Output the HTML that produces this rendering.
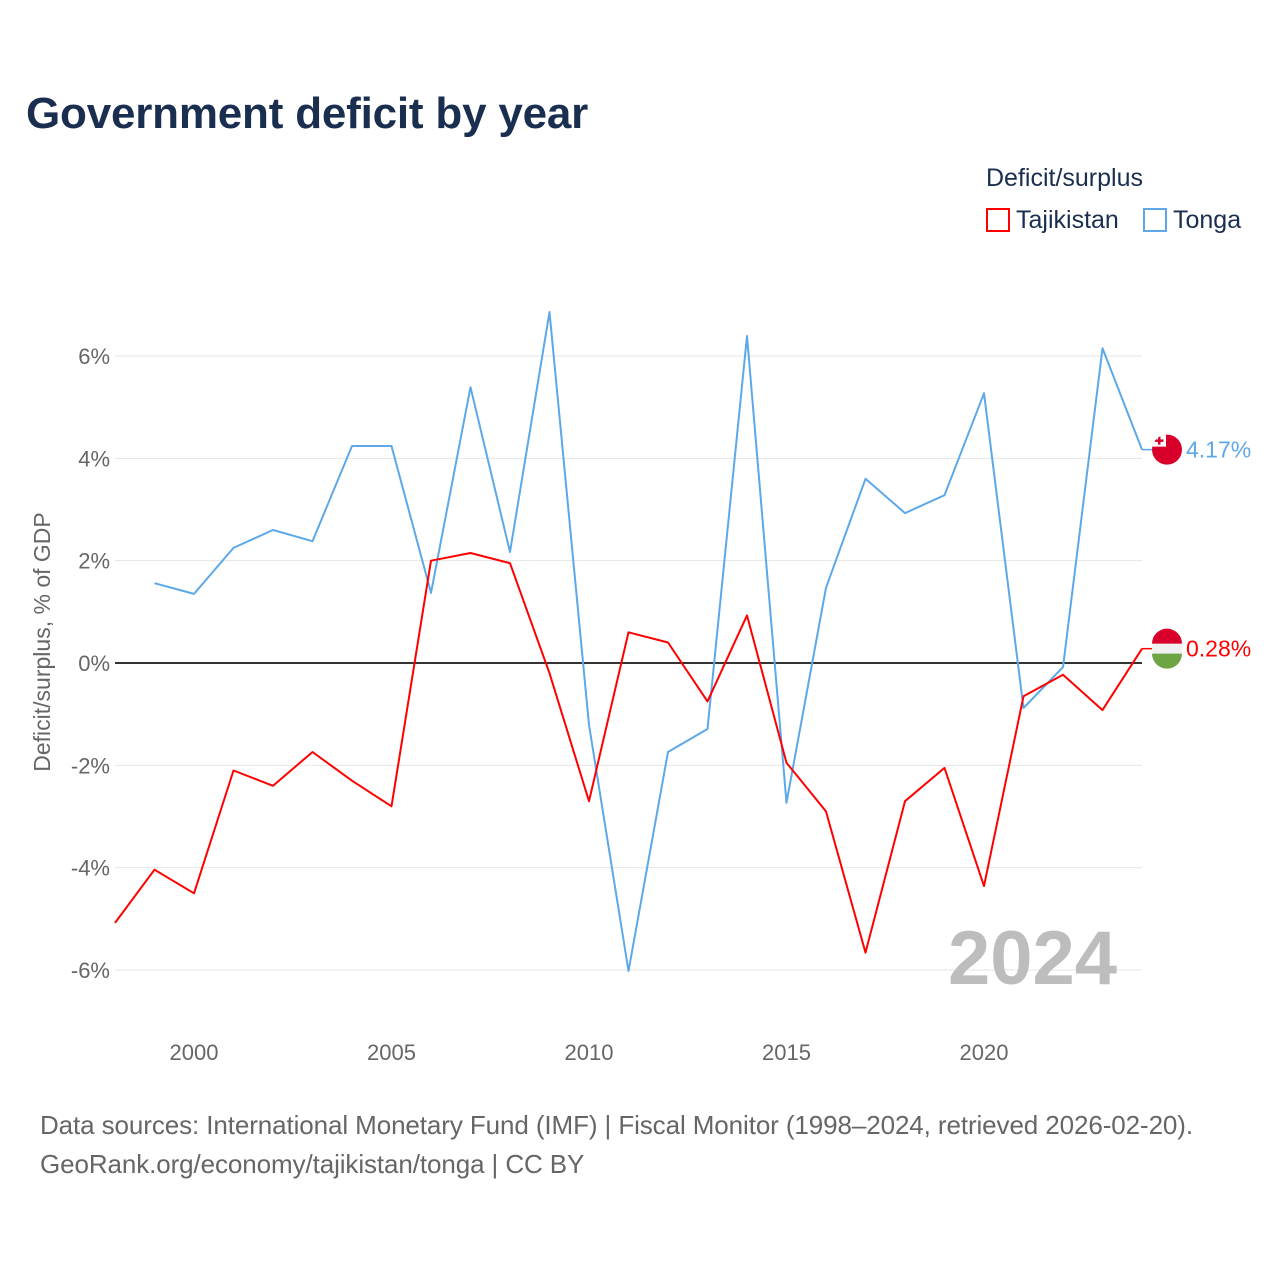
<!DOCTYPE html>
<html><head><meta charset="utf-8">
<style>
body{margin:0;background:#fff;font-family:"Liberation Sans",sans-serif;}
#wrap{position:relative;width:1280px;height:1280px;overflow:hidden;}
.t{position:absolute;white-space:nowrap;}
</style></head>
<body><div id="wrap">
<div class="t" style="left:26px;top:89px;font-size:44px;letter-spacing:-0.2px;font-weight:bold;color:#1a2e4f;">Government deficit by year</div>
<div class="t" style="left:986px;top:164px;font-size:25px;color:#1a2e4f;">Deficit/surplus</div>
<div class="t" style="left:986px;top:206px;font-size:25px;color:#1a2e4f;"><span style="display:inline-block;width:24px;height:24px;border:2px solid #f00;box-sizing:border-box;vertical-align:-4px;margin-right:6px"></span>Tajikistan</div>
<div class="t" style="left:1143px;top:206px;font-size:25px;color:#1a2e4f;"><span style="display:inline-block;width:24px;height:24px;border:2px solid #5ca8e8;box-sizing:border-box;vertical-align:-4px;margin-right:6px"></span>Tonga</div>
<svg id="chart" width="1280" height="1280" style="position:absolute;left:0;top:0"></svg>
<div class="t" style="left:948px;top:915px;font-size:76px;font-weight:bold;color:#bdbdbd;">2024</div>
<div class="t" style="left:40px;top:1106px;font-size:26px;letter-spacing:-0.1px;color:#666;line-height:39px;">Data sources: International Monetary Fund (IMF) | Fiscal Monitor (1998–2024, retrieved 2026-02-20).<br>GeoRank.org/economy/tajikistan/tonga | CC BY</div>
</div>
<script>
const years=[1998,1999,2000,2001,2002,2003,2004,2005,2006,2007,2008,2009,2010,2011,2012,2013,2014,2015,2016,2017,2018,2019,2020,2021,2022,2023,2024];
const tajikistan=[-5.08,-4.04,-4.5,-2.1,-2.4,-1.74,-2.3,-2.8,2.0,2.15,1.95,-0.2,-2.7,0.6,0.4,-0.75,0.93,-1.95,-2.9,-5.66,-2.7,-2.05,-4.36,-0.65,-0.23,-0.92,0.28];
const tonga=[null,1.56,1.35,2.25,2.6,2.38,4.24,4.24,1.37,5.39,2.17,6.86,-1.21,-6.02,-1.74,-1.29,6.39,-2.73,1.47,3.6,2.93,3.28,5.27,-0.88,-0.08,6.15,4.17];
const yTicks=[-6,-4,-2,0,2,4,6];
const xTicks=[2000,2005,2010,2015,2020];
const X=y=>115+(y-1998)*(1142-115)/26;
const Y=v=>663-v*51.17;
const svg=document.getElementById('chart');const NS='http://www.w3.org/2000/svg';
function mk(t,a,p){const e=document.createElementNS(NS,t);for(const k in a)e.setAttribute(k,a[k]);(p||svg).appendChild(e);return e;}
yTicks.forEach(v=>{
 const l=mk('line',{x1:115,x2:1142,y1:Y(v),y2:Y(v),stroke:v===0?'#333':'#e6e6e6','stroke-width':v===0?2:1});
 
 
 const t=mk('text',{x:110,y:Y(v)+8,'text-anchor':'end','font-size':22,fill:'#666','font-family':'Liberation Sans'});
 t.textContent=v+'%';
 
 
});
xTicks.forEach(v=>{
 const t=mk('text',{x:X(v),y:1060,'text-anchor':'middle','font-size':22,fill:'#666','font-family':'Liberation Sans'});
 t.textContent=v;
 
 
});
const yt=mk('text',{x:0,y:0,transform:'translate(50,642) rotate(-90)','text-anchor':'middle','font-size':23,fill:'#666','font-family':'Liberation Sans'});
yt.textContent='Deficit/surplus, % of GDP';


function line(data,color,name){
 let d='';data.forEach((v,i)=>{if(v===null)return;d+=(d?'L':'M')+X(years[i]).toFixed(1)+','+Y(v).toFixed(1);});
 const p=mk('path',{d:d,fill:'none',stroke:color,'stroke-width':2,'stroke-linejoin':'round'});
 
 
 const last=data[data.length-1];
 mk('line',{x1:X(2024),x2:1152,y1:Y(last),y2:Y(last),stroke:color,'stroke-width':1.5});
 const t=mk('text',{x:1186,y:Y(last)+8,'font-size':23,fill:color,'font-family':'Liberation Sans'});
 t.textContent=last.toFixed(2)+'%';
 
 
}
line(tonga,'#5ca8e8','tonga-line');
line(tajikistan,'#ff0000','tajikistan-line');
const defs=mk('defs',{});
const ty1=Y(tonga[26]);
const cp=mk('clipPath',{id:'c1'},defs);mk('circle',{cx:1167,cy:ty1,r:15},cp);
const f1=mk('circle',{cx:1167,cy:ty1,r:15,fill:'#d8002a'});


const g=mk('g',{'clip-path':'url(#c1)'});
mk('rect',{x:1150,y:ty1-16,width:16,height:13,fill:'#fff'},g);
mk('rect',{x:1158,y:ty1-13,width:2.5,height:8,fill:'#d8002a'},g);
mk('rect',{x:1155,y:ty1-10.2,width:8.5,height:2.5,fill:'#d8002a'},g);
const ty=Y(tajikistan[26]);
const f2=mk('circle',{cx:1167,cy:ty,r:15,fill:'#f0f0f0'});


mk('path',{d:`M1152,${ty-5}A15,15 0 0 1 1182,${ty-5}Z`,fill:'#d8002a'});
mk('path',{d:`M1152,${ty+5}A15,15 0 0 0 1182,${ty+5}Z`,fill:'#6da544'});
</script>
</body></html>
